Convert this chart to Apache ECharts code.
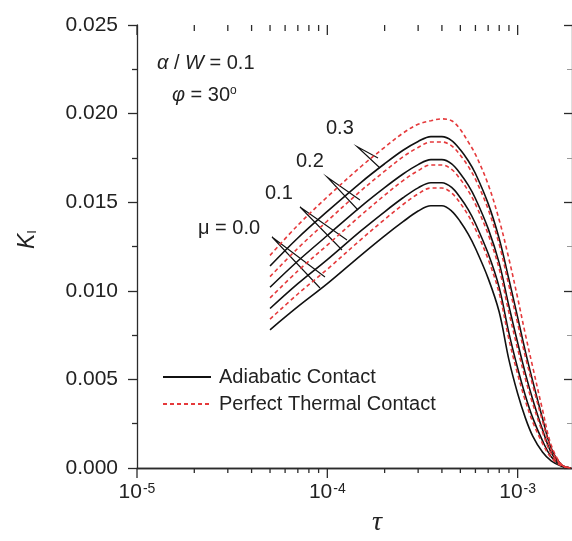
<!DOCTYPE html>
<html><head><meta charset="utf-8">
<script src="https://cdn.jsdelivr.net/npm/echarts@6/dist/echarts.min.js"></script>
<style>html,body{margin:0;padding:0;background:#fff}#c{width:572px;height:541px;overflow:hidden}</style>
</head><body><div id="c"></div>
<script>
// ---- data ----
const tau = [5e-5, 7e-5, 1e-4, 1.5e-4, 2e-4, 2.5e-4, 3e-4, 3.5e-4, 4e-4, 4.5e-4, 5e-4, 5.5e-4, 6e-4, 7e-4, 8e-4, 9e-4, 1e-3, 1.1e-3, 1.2e-3, 1.35e-3, 1.5e-3, 1.7e-3, 1.9e-3];
const adiabaticMu00 = [0.0078,0.0091,0.0104,0.0120,0.0131,0.0139,0.0145,0.0148,0.0148,0.0145,0.0139,0.0132,0.0124,0.0107,0.0088,0.0061,0.0042,0.0028,0.0018,0.0009,0.0004,0.0001,0];
const thermalMu00  = [0.0084,0.00982,0.01122,0.01289,0.01403,0.01487,0.01547,0.0158,0.0158,0.01552,0.01494,0.01426,0.01348,0.01178,0.00986,0.00726,0.0053,0.00376,0.0026,0.00139,0.00058,0.00012,0];
const adiabaticMu01 = [0.0090,0.0104,0.01176,0.01338,0.01446,0.01525,0.01581,0.0161,0.0161,0.01583,0.01525,0.01458,0.0138,0.0121,0.01018,0.00761,0.00563,0.00405,0.00283,0.00154,0.00064,0.00013,0];
const thermalMu01  = [0.0096,0.01112,0.01258,0.01426,0.01539,0.01622,0.01678,0.0171,0.0171,0.01685,0.01629,0.01564,0.01489,0.01319,0.01124,0.00877,0.00673,0.0050,0.00363,0.00203,0.00082,0.00015,0];
const adiabaticMu02 = [0.0102,0.01168,0.01312,0.01475,0.01582,0.01659,0.01712,0.0174,0.0174,0.01716,0.01661,0.01596,0.01521,0.01351,0.01156,0.00913,0.00707,0.0053,0.00387,0.00217,0.00088,0.00015,0];
const thermalMu02  = [0.0108,0.0124,0.01394,0.01564,0.01675,0.01756,0.01809,0.0184,0.0184,0.01818,0.01765,0.01702,0.0163,0.0146,0.01262,0.01029,0.00817,0.00625,0.00467,0.00266,0.00106,0.00017,0];
const adiabaticMu03 = [0.0114,0.01298,0.01448,0.01611,0.01717,0.01793,0.01843,0.0187,0.0187,0.01848,0.01796,0.01734,0.01662,0.01492,0.01294,0.01064,0.0085,0.00654,0.0049,0.00281,0.00112,0.00018,0];
const thermalMu03  = [0.0120,0.0137,0.0153,0.0170,0.0181,0.0189,0.0194,0.0196,0.0197,0.0196,0.0191,0.0184,0.0177,0.0160,0.0140,0.0118,0.0096,0.0075,0.0057,0.0033,0.0013,0.0002,0];
const majorTickValues = [1e-5, 1e-4, 1e-3];
const minorTickValues = [2e-5,3e-5,4e-5,5e-5,6e-5,7e-5,8e-5,9e-5,2e-4,3e-4,4e-4,5e-4,6e-4,7e-4,8e-4,9e-4];
const yTicks = [0, 0.005, 0.010, 0.015, 0.020, 0.025];
const legendNames = ['Adiabatic Contact', 'Perfect Thermal Contact'];

// ---- chart ----
const FONT = 'Liberation Sans, Arial, sans-serif';
const chart = echarts.init(document.getElementById('c'), null, {renderer: 'canvas'});
const AX = '#2b2b2b';
const RED = '#e5393b';
const TXT = '#222';

function pairs(arr) { return tau.map((t, i) => [t, arr[i]]); }
function black(arr) {
  return {type: 'line', name: legendNames[0], data: pairs(arr), symbol: 'none', showSymbol: false, smooth: 0.35,
    lineStyle: {color: '#111', width: 1.6}, itemStyle: {color: '#111'}, silent: true, z: 3};
}
function red(arr) {
  return {type: 'line', name: legendNames[1], data: pairs(arr), symbol: 'none', showSymbol: false, smooth: 0.35,
    lineStyle: {color: RED, width: 1.6, type: [4, 3]}, itemStyle: {color: RED}, silent: true, z: 4};
}
function tickSeries(values, lenBottom, lenTop) {
  return {type: 'custom', silent: true, clip: false, z: 5,
    data: values.map(v => [v, yMin]),
    renderItem: function (params, api) {
      const v = api.value(0);
      const pb = api.coord([v, yMin]);
      const pt = api.coord([v, yMax]);
      const st = {stroke: AX, lineWidth: 1.3};
      return {type: 'group', children: [
        {type: 'line', shape: {x1: pb[0], y1: pb[1], x2: pb[0], y2: pb[1] + lenBottom}, style: st},
        {type: 'line', shape: {x1: pt[0], y1: pt[1], x2: pt[0], y2: pt[1] + lenTop}, style: st}
      ]};
    }};
}

const xMin = 1e-5, xMax = 1.93e-3;
const yMin = yTicks[0], yMax = yTicks[yTicks.length - 1];

function label(x, y, text, extra) {
  return {type: 'text', x: x, y: y, style: Object.assign({text: text, fontFamily: FONT, fontSize: 20, fill: TXT,
    align: 'left', verticalAlign: 'middle'}, extra || {})};
}

const option = {
  animation: false,
  backgroundColor: '#fff',
  grid: {left: 137, top: 25, width: 440, height: 443, containLabel: false},
  legend: {
    data: legendNames, orient: 'vertical', left: 162, top: 367, padding: 0,
    itemWidth: 48, itemHeight: 14, itemGap: 7,
    selectedMode: false,
    itemStyle: {color: 'rgba(0,0,0,0)', borderWidth: 0, opacity: 0},
    textStyle: {fontFamily: FONT, fontSize: 20, color: TXT, padding: [0, 0, 0, 3]}
  },
  xAxis: [
    {type: 'log', logBase: 10, min: xMin, max: xMax, interval: 1, position: 'bottom',
     axisLine: {lineStyle: {color: AX, width: 1.3}},
     axisTick: {show: false},
     axisLabel: {margin: 14, showMaxLabel: false, color: TXT,
       formatter: v => '{b|10}{s|' + Math.round(Math.log10(v)) + '}',
       rich: {b: {fontFamily: FONT, fontSize: 21, color: TXT},
              s: {fontFamily: FONT, fontSize: 14, color: TXT, verticalAlign: 'top', padding: [0, 0, 0, 1]}}},
     splitLine: {show: false}, minorTick: {show: false}},
    {type: 'log', logBase: 10, min: xMin, max: xMax, interval: 1, position: 'top',
     axisLine: {lineStyle: {color: AX, width: 1.3}},
     axisTick: {show: false},
     axisLabel: {show: false}, splitLine: {show: false}}
  ],
  yAxis: [
    {type: 'value', min: yMin, max: yMax, interval: 0.005, position: 'left',
     axisLine: {show: true, lineStyle: {color: AX, width: 1.3}},
     axisTick: {show: true, inside: false, length: 9, lineStyle: {color: AX, width: 1.3}},
     minorTick: {show: true, splitNumber: 2, length: 5, lineStyle: {color: AX, width: 1.3}},
     axisLabel: {margin: 19, fontFamily: FONT, fontSize: 21, color: TXT, formatter: v => v.toFixed(3)},
     splitLine: {show: false}},
    {type: 'value', min: yMin, max: yMax, interval: 0.005, position: 'right',
     axisLine: {show: true, lineStyle: {color: AX, width: 1.3}},
     axisTick: {show: true, inside: true, length: 8, lineStyle: {color: AX, width: 1.3}},
     minorTick: {show: true, splitNumber: 2, length: 5, lineStyle: {color: '#999', width: 1}},
     axisLabel: {show: false}, splitLine: {show: false}}
  ],
  series: [
    black(adiabaticMu00), red(thermalMu00),
    black(adiabaticMu01), red(thermalMu01),
    black(adiabaticMu02), red(thermalMu02),
    black(adiabaticMu03), red(thermalMu03),
    tickSeries(majorTickValues, 10, 10),
    tickSeries(minorTickValues, 5, 6)
  ],
  graphic: [
    label(157, 63, '{i|α} / {i|W} = 0.1', {rich: {i: {fontFamily: FONT, fontStyle: 'italic', fontSize: 20, fill: TXT}}}),
    label(172, 95, '{i|φ} = 30{s|o}', {rich: {i: {fontFamily: FONT, fontStyle: 'italic', fontSize: 20, fill: TXT},
                                               s: {fontFamily: FONT, fontSize: 12, fill: TXT, verticalAlign: 'top'}}}),
    label(198, 228, 'μ = 0.0'),
    label(265, 193, '0.1'),
    label(296, 161, '0.2'),
    label(326, 128, '0.3'),
    {type: 'polyline', shape: {points: [[378, 158], [357, 146.5], [380, 168]]}, style: {stroke: '#111', lineWidth: 1.1, fill: null}},
    {type: 'polyline', shape: {points: [[360, 200], [327, 177], [358, 210]]}, style: {stroke: '#111', lineWidth: 1.1, fill: null}},
    {type: 'polyline', shape: {points: [[347, 240], [300, 207], [342, 250]]}, style: {stroke: '#111', lineWidth: 1.1, fill: null}},
    {type: 'polyline', shape: {points: [[325, 277], [272, 237], [320, 288]]}, style: {stroke: '#111', lineWidth: 1.1, fill: null}},
    {type: 'text', x: 377, y: 523, style: {text: 'τ', fontFamily: 'Liberation Serif, serif', fontStyle: 'italic', fontSize: 28, fill: TXT, align: 'center', verticalAlign: 'middle'}},
    {type: 'text', x: 16, y: 249, rotation: Math.PI / 2, style: {
      text: '{k|K}{s|I}',
      rich: {k: {fontFamily: FONT, fontStyle: 'italic', fontSize: 23, fill: TXT},
             s: {fontFamily: FONT, fontSize: 13, fill: TXT, verticalAlign: 'bottom'}}}}
  ]
};
chart.setOption(option);
</script></body></html>
